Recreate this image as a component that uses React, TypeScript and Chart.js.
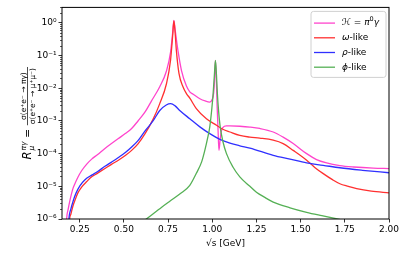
import React, { useEffect, useRef } from 'react';
import { Chart, registerables } from 'chart.js';

Chart.register(...registerables);

// ---- Data ----
const X_TICKS = [0.25, 0.5, 0.75, 1.0, 1.25, 1.5, 1.75, 2.0];
const Y_TICKS = [1e-6, 1e-5, 1e-4, 1e-3, 1e-2, 1e-1, 1];
const Y_TICK_LABELS = ['10⁻⁶', '10⁻⁵', '10⁻⁴', '10⁻³', '10⁻²', '10⁻¹', '10⁰'];

const SERIES_NAMES = ['ℋ = π⁰γ', 'ω-like', 'ρ-like', 'ϕ-like'];
const SERIES_COLORS = ['#ff44cc', '#ff3030', '#3030ff', '#55b055'];

const totalX = [0.168, 0.176, 0.185, 0.195, 0.21, 0.223, 0.24, 0.261, 0.29, 0.318, 0.35, 0.393, 0.43, 0.469, 0.51, 0.544, 0.58, 0.62, 0.655, 0.703, 0.741, 0.764, 0.776, 0.783, 0.79, 0.797, 0.807, 0.826, 0.854, 0.873, 0.892, 0.93, 0.96, 0.986, 1.0, 1.008, 1.013, 1.018, 1.023, 1.028, 1.033, 1.038, 1.045, 1.052, 1.06, 1.08, 1.1, 1.156, 1.213, 1.269, 1.345, 1.401, 1.458, 1.534, 1.59, 1.647, 1.722, 1.8, 1.911, 2.0];
const totalY = [1e-7, 1.0e-6, 2.0e-6, 3.7e-6, 7.9e-6, 1.2e-5, 1.9e-5, 3.0e-5, 4.8e-5, 6.8e-5, 9.3e-5, 1.45e-4, 2.04e-4, 2.9e-4, 4.2e-4, 5.9e-4, 1.0e-3, 1.9e-3, 4.0e-3, 1.12e-2, 3.4e-2, 0.126, 0.5, 1.2, 0.63, 0.32, 0.132, 0.035, 0.0117, 7.8e-3, 6.6e-3, 4.8e-3, 4.1e-3, 3.8e-3, 4.6e-3, 7.1e-3, 0.0178, 0.072, 0.02, 2.5e-3, 5.0e-4, 1.26e-4, 2.8e-4, 5.0e-4, 6.3e-4, 7.1e-4, 7.1e-4, 6.9e-4, 6.5e-4, 5.9e-4, 4.6e-4, 3.2e-4, 2.04e-4, 1.0e-4, 6.6e-5, 5.2e-5, 4.3e-5, 3.9e-5, 3.6e-5, 3.5e-5];

const omegaX = [0.182, 0.193, 0.2, 0.212, 0.223, 0.24, 0.261, 0.29, 0.318, 0.35, 0.393, 0.43, 0.469, 0.51, 0.544, 0.58, 0.62, 0.665, 0.703, 0.741, 0.764, 0.776, 0.783, 0.79, 0.797, 0.812, 0.835, 0.854, 0.873, 0.91, 0.967, 1.024, 1.06, 1.1, 1.156, 1.213, 1.269, 1.345, 1.401, 1.458, 1.534, 1.58, 1.628, 1.68, 1.722, 1.77, 1.817, 1.9, 2.0];
const omegaY = [1e-7, 1.0e-6, 1.4e-6, 2.5e-6, 3.7e-6, 6.3e-6, 9.5e-6, 1.4e-5, 1.95e-5, 2.5e-5, 3.5e-5, 4.7e-5, 6.3e-5, 8.9e-5, 1.26e-4, 2.0e-4, 4.1e-4, 1.12e-3, 3.4e-3, 1.38e-2, 0.072, 0.4, 1.15, 0.5, 0.145, 0.028, 0.011, 6.9e-3, 5.0e-3, 2.4e-3, 1.17e-3, 7.4e-4, 5.6e-4, 4.6e-4, 3.6e-4, 3.2e-4, 3.0e-4, 2.6e-4, 2.04e-4, 1.26e-4, 6.3e-5, 3.8e-5, 2.45e-5, 1.6e-5, 1.2e-5, 1.0e-5, 8.5e-6, 7.1e-6, 6.3e-6];

const rhoX = [0.18, 0.189, 0.2, 0.214, 0.23, 0.252, 0.28, 0.318, 0.35, 0.393, 0.43, 0.469, 0.51, 0.544, 0.58, 0.62, 0.665, 0.703, 0.74, 0.765, 0.79, 0.816, 0.873, 0.93, 0.986, 1.043, 1.1, 1.156, 1.213, 1.345, 1.44, 1.534, 1.628, 1.722, 1.85, 2.0];
const rhoY = [1e-7, 1.0e-6, 2.0e-6, 3.7e-6, 6.3e-6, 1.05e-5, 1.6e-5, 2.2e-5, 2.8e-5, 4.1e-5, 5.5e-5, 7.6e-5, 1.1e-4, 1.6e-4, 2.5e-4, 5.0e-4, 1.0e-3, 2.1e-3, 3.1e-3, 3.4e-3, 2.9e-3, 2.1e-3, 1.17e-3, 6.6e-4, 4.1e-4, 2.75e-4, 2.1e-4, 1.74e-4, 1.48e-4, 8.9e-5, 6.8e-5, 5.2e-5, 4.4e-5, 3.7e-5, 3.1e-5, 2.6e-5];

const phiX = [0.59, 0.627, 0.714, 0.76, 0.82, 0.873, 0.91, 0.94, 0.958, 0.975, 0.986, 0.998, 1.005, 1.012, 1.018, 1.024, 1.029, 1.036, 1.045, 1.06, 1.08, 1.117, 1.156, 1.213, 1.25, 1.3, 1.345, 1.44, 1.534, 1.62, 1.7, 1.8];
const phiY = [7.1e-7, 1.0e-6, 2.3e-6, 3.5e-6, 6.0e-6, 1.07e-5, 2.5e-5, 5.6e-5, 1.26e-4, 3.2e-4, 6.6e-4, 2.5e-3, 6.9e-3, 0.025, 0.072, 0.025, 6.9e-3, 2.0e-3, 6.6e-4, 2.4e-4, 1.02e-4, 3.9e-5, 1.95e-5, 1.0e-5, 6.6e-6, 4.5e-6, 3.3e-6, 2.2e-6, 1.6e-6, 1.26e-6, 1.02e-6, 7.9e-7];

const FONT = '"DejaVu Sans", sans-serif';

type Part = { t: string; font: string; dy?: number };

function drawParts(ctx: CanvasRenderingContext2D, x: number, y: number, parts: Part[]) {
  let cx = x;
  for (const p of parts) {
    ctx.font = p.font;
    ctx.fillText(p.t, cx, y + (p.dy || 0));
    cx += ctx.measureText(p.t).width;
  }
  return cx - x;
}

const LEGEND_PARTS: Part[][] = [
  [
    { t: 'ℋ', font: `italic 9px ${FONT}` },
    { t: ' = ', font: `9px ${FONT}` },
    { t: 'π', font: `italic 9px ${FONT}` },
    { t: '0', font: `6.5px ${FONT}`, dy: -3.5 },
    { t: 'γ', font: `italic 9px ${FONT}` },
  ],
  [{ t: 'ω', font: `italic 9px ${FONT}` }, { t: '-like', font: `9px ${FONT}` }],
  [{ t: 'ρ', font: `italic 9px ${FONT}` }, { t: '-like', font: `9px ${FONT}` }],
  [{ t: 'ϕ', font: `italic 9px ${FONT}` }, { t: '-like', font: `9px ${FONT}` }],
];

const framePlugin = {
  id: 'frameAndExtras',
  afterDraw(chart: any) {
    const ctx: CanvasRenderingContext2D = chart.ctx;
    const ca = chart.chartArea;
    const yScale = chart.scales.y;
    ctx.save();
    // minor ticks on log axis
    ctx.strokeStyle = '#333';
    ctx.lineWidth = 0.8;
    for (let e = -6; e <= 0; e++) {
      for (let m = 2; m <= 9; m++) {
        const v = m * Math.pow(10, e);
        if (v > yScale.max) continue;
        const py = Math.round(yScale.getPixelForValue(v)) + 0.5;
        ctx.beginPath();
        ctx.moveTo(ca.left - 2, py);
        ctx.lineTo(ca.left, py);
        ctx.stroke();
      }
    }
    // frame
    ctx.strokeStyle = '#000';
    ctx.lineWidth = 1;
    ctx.strokeRect(ca.left, ca.top, ca.right - ca.left, ca.bottom - ca.top);

    // legend
    const boxW = 75;
    const boxH = 66;
    const bx = ca.right - 3 - boxW;
    const by = ca.top + 4;
    const r = 2.5;
    ctx.beginPath();
    ctx.moveTo(bx + r, by);
    ctx.lineTo(bx + boxW - r, by);
    ctx.arcTo(bx + boxW, by, bx + boxW, by + r, r);
    ctx.lineTo(bx + boxW, by + boxH - r);
    ctx.arcTo(bx + boxW, by + boxH, bx + boxW - r, by + boxH, r);
    ctx.lineTo(bx + r, by + boxH);
    ctx.arcTo(bx, by + boxH, bx, by + boxH - r, r);
    ctx.lineTo(bx, by + r);
    ctx.arcTo(bx, by, bx + r, by, r);
    ctx.closePath();
    ctx.fillStyle = 'rgba(255,255,255,0.8)';
    ctx.fill();
    ctx.strokeStyle = '#d0d0d0';
    ctx.lineWidth = 1;
    ctx.stroke();
    ctx.textBaseline = 'middle';
    ctx.textAlign = 'left';
    for (let i = 0; i < SERIES_NAMES.length; i++) {
      const y = by + 11.7 + i * 14.7;
      ctx.strokeStyle = SERIES_COLORS[i];
      ctx.lineWidth = 1.3;
      ctx.beginPath();
      ctx.moveTo(bx + 3, y);
      ctx.lineTo(bx + 24, y);
      ctx.stroke();
      ctx.fillStyle = '#000';
      drawParts(ctx, bx + 31, y, LEGEND_PARTS[i]);
    }

    // y-axis title (rotated, with fraction)
    const cy = (ca.top + ca.bottom) / 2;
    const baseX = 31;
    ctx.translate(baseX, cy);
    ctx.rotate(-Math.PI / 2);
    ctx.textBaseline = 'alphabetic';
    ctx.fillStyle = '#000';
    const big = `italic 11.5px ${FONT}`;
    const small = `italic 7.5px ${FONT}`;
    const norm = `11px ${FONT}`;
    const frac = `7.5px ${FONT}`;
    const num = 'σ(e⁺e⁻ → πγ)';
    const den = 'σ(e⁺e⁻ → μ⁺μ⁻)';
    ctx.font = big;
    const wR = ctx.measureText('R').width;
    ctx.font = small;
    const wSup = ctx.measureText('πγ').width;
    const wSub = ctx.measureText('μ').width;
    const wS = Math.max(wSup, wSub);
    ctx.font = norm;
    const wEq = ctx.measureText(' = ').width;
    ctx.font = frac;
    const wNum = ctx.measureText(num).width;
    const wDen = ctx.measureText(den).width;
    const wF = Math.max(wNum, wDen) + 2;
    const total = wR + 1 + wS + wEq + wF;
    let x = -total / 2;
    ctx.font = big;
    ctx.fillText('R', x, 0);
    x += wR + 1;
    ctx.font = small;
    ctx.fillText('πγ', x, -5);
    ctx.fillText('μ', x, 3);
    x += wS;
    ctx.font = norm;
    ctx.fillText(' = ', x, 0);
    x += wEq;
    const axis = -3.5;
    ctx.strokeStyle = '#000';
    ctx.lineWidth = 0.7;
    ctx.beginPath();
    ctx.moveTo(x, axis);
    ctx.lineTo(x + wF, axis);
    ctx.stroke();
    ctx.font = frac;
    ctx.fillText(num, x + (wF - wNum) / 2, axis - 1.8);
    ctx.fillText(den, x + (wF - wDen) / 2, axis + 7.5);
    ctx.restore();
  },
};

function toPoints(xs: number[], ys: number[]) {
  return xs.map((x, i) => ({ x, y: ys[i] }));
}

export default function App() {
  const ref = useRef<HTMLCanvasElement | null>(null);
  useEffect(() => {
    document.body.style.margin = '0';
    const canvas = ref.current!;
    const seriesX = [totalX, omegaX, rhoX, phiX];
    const seriesY = [totalY, omegaY, rhoY, phiY];
    const chart = new Chart(canvas, {
      type: 'line',
      data: {
        datasets: SERIES_NAMES.map((name, i) => ({
          label: name,
          data: toPoints(seriesX[i], seriesY[i]),
          borderColor: SERIES_COLORS[i],
          backgroundColor: SERIES_COLORS[i],
          borderWidth: 1.3,
          pointRadius: 0,
          fill: false,
          cubicInterpolationMode: 'monotone' as const,
          order: SERIES_NAMES.length - i,
        })),
      },
      options: {
        animation: false,
        responsive: false,
        devicePixelRatio: 1,
        layout: { padding: { left: 0, top: 7, right: 18, bottom: 0 } },
        plugins: { legend: { display: false }, tooltip: { enabled: false } },
        scales: {
          x: {
            type: 'linear',
            min: 0.15,
            max: 2.0,
            afterBuildTicks: (scale: any) => {
              scale.ticks = X_TICKS.map((v) => ({ value: v }));
            },
            afterFit: (scale: any) => {
              scale.height = 38;
            },
            ticks: {
              font: { family: FONT, size: 9 },
              color: '#000',
              padding: 2,
              maxRotation: 0,
              autoSkip: false,
              callback: (v: any) => Number(v).toFixed(2),
            },
            grid: { drawOnChartArea: false, drawTicks: true, tickLength: 3.5, tickColor: '#333' },
            border: { display: false },
            title: {
              display: true,
              text: '√s [GeV]',
              font: { family: FONT, size: 9 },
              color: '#000',
              padding: { top: 0, bottom: 8 },
            },
          },
          y: {
            type: 'logarithmic',
            min: 1e-6,
            max: 3,
            afterBuildTicks: (scale: any) => {
              scale.ticks = Y_TICKS.map((v) => ({ value: v }));
            },
            afterFit: (scale: any) => {
              scale.width = 62;
            },
            ticks: {
              font: { family: FONT, size: 9 },
              color: '#000',
              padding: 2,
              autoSkip: false,
              callback: (v: any) => {
                const idx = Y_TICKS.findIndex((t) => Math.abs(Math.log10(t) - Math.log10(Number(v))) < 1e-6);
                return idx >= 0 ? Y_TICK_LABELS[idx] : '';
              },
            },
            grid: { drawOnChartArea: false, drawTicks: true, tickLength: 3.5, tickColor: '#333' },
            border: { display: false },
          },
        },
      },
      plugins: [framePlugin],
    });
    return () => chart.destroy();
  }, []);
  return (
    <div style={{ position: 'absolute', left: 0, top: 0, width: 407, height: 257, background: '#fff' }}>
      <canvas ref={ref} width={407} height={257} />
    </div>
  );
}
